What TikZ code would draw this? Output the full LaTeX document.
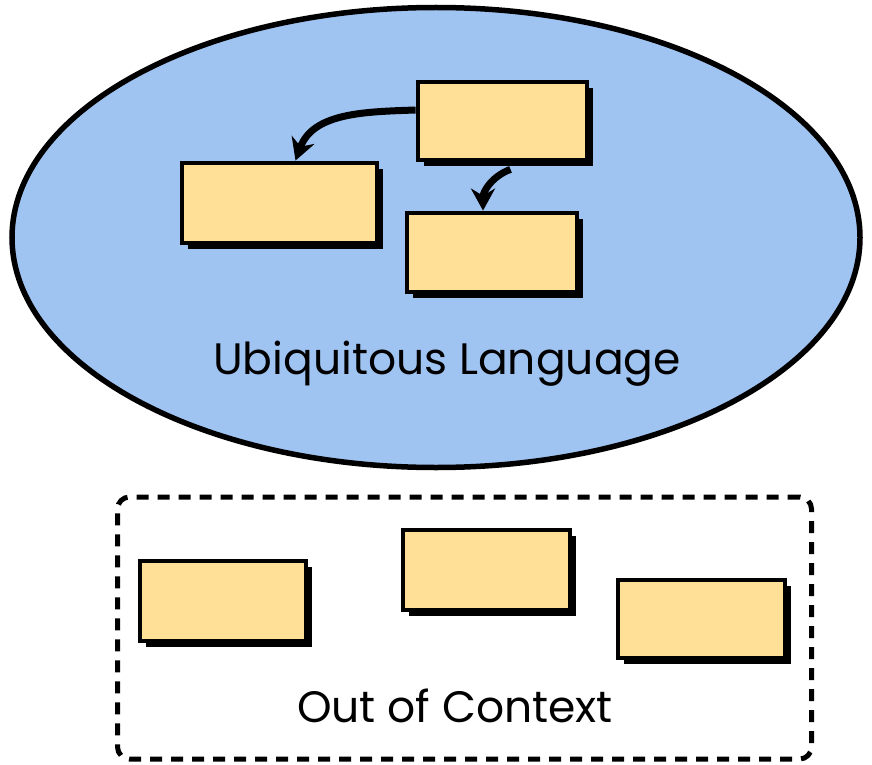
\documentclass[tikz,border=0pt]{standalone}
\usepackage{fontspec}
\setmainfont{Poppins}
\usetikzlibrary{shapes.geometric,shadows,arrows.meta}
\definecolor{langblue}{RGB}{160,196,242}
\definecolor{cardyellow}{RGB}{255,224,150}

\begin{document}
\begin{tikzpicture}[x=1pt, y=1pt,
              card/.style = {draw, line width=4.8pt, fill=cardyellow, inner sep=0pt,
                drop shadow={shadow xshift=6pt, shadow yshift=-6pt, fill=black, opacity=1}},
              link/.style = {line width=7pt, -{Stealth[length=22pt, width=24pt]}},
              label/.style = {font=\fontsize{44}{46}\selectfont}]
  \useasboundingbox (0,0) rectangle (872,-765);
  % bounded context
  \node[ellipse, draw, line width=5.5pt, fill=langblue,
        minimum width=848, minimum height=460] (lang) at (436,-237.5) {};
  \node[card, minimum width=169, minimum height=78] (src) at (502.5,-121) {};
  \node[card, minimum width=195, minimum height=80] (left) at (279.5,-203) {};
  \node[card, minimum width=170, minimum height=79] (right) at (492,-252.5) {};
  \draw[link] ([yshift=11pt]src.west) to[out=182, in=70] ([xshift=16pt]left.north);
  \draw[link] ([xshift=8pt, yshift=-7pt]src.south) to[out=200, in=90] ([xshift=-9pt]right.north);
  \node[label] (langname) at (447,-364) {Ubiquitous Language};
  % outside
  \node[draw, dashed, dash pattern=on 12pt off 9pt, line width=5pt, rounded corners=12pt,
        minimum width=694, minimum height=262] (outside) at (464.5,-628) {};
  \node[card, minimum width=166, minimum height=80] (out1) at (223,-601) {};
  \node[card, minimum width=167, minimum height=80] (out2) at (486.5,-570) {};
  \node[card, minimum width=167, minimum height=78] (out3) at (701.5,-619) {};
  \node[label] (outname) at (455,-706) {Out of Context};
\end{tikzpicture}
\end{document}
